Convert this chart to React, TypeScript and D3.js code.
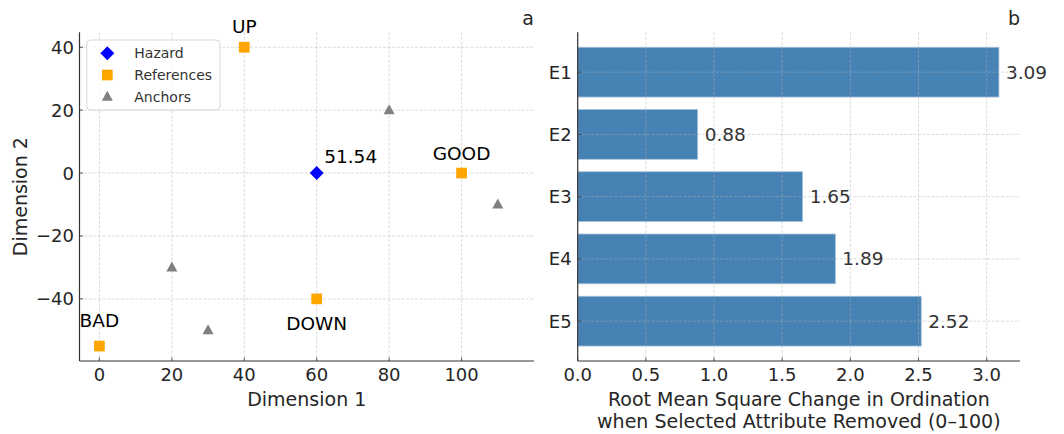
import React from "react";
import * as d3 from "d3";

// ---------- data ----------
const hazardPoint = { x: 60, y: 0, label: "51.54" };
const referenceNames = ["BAD", "UP", "GOOD", "DOWN"];
const referenceX = [0, 40, 100, 60];
const referenceY = [-55, 40, 0, -40];
const anchorX = [20, 30, 80, 110];
const anchorY = [-30, -50, 20, -10];
const scatterXTicks = [0, 20, 40, 60, 80, 100];
const scatterYTicks = [-40, -20, 0, 20, 40];
const legendItems = ["Hazard", "References", "Anchors"];

const barCategories = ["E1", "E2", "E3", "E4", "E5"];
const barValues = [3.09, 0.88, 1.65, 1.89, 2.52];
const barXTicks = [0, 0.5, 1.0, 1.5, 2.0, 2.5, 3.0];

// ---------- style ----------
const W = 1064;
const H = 434;
const FONT = "DejaVu Sans, Verdana, sans-serif";
const TEXT = "#262626";
const SPINE = "#333333";
const GRID = "#b0b0b0";
const ORANGE = "#FFA500";
const BLUE = "#0000FF";
const GRAY = "#808080";
const STEEL = "#4682B4";

const top = 32.3;
const bottom = 361;
const L = { left: 79.5, right: 534 };
const R = { left: 577.7, right: 1020 };

// label pixel offsets (style)
const refLabelOffset: Record<string, number> = { BAD: -19, UP: -14, GOOD: -13, DOWN: 31 };

const fmtMinus = (v: number) => (v < 0 ? "\u2212" + Math.abs(v) : String(v));

function triangle(cx: number, cy: number) {
  const w = 11, h = 10;
  return `M${cx},${cy - h * 0.6} L${cx + w / 2},${cy + h * 0.4} L${cx - w / 2},${cy + h * 0.4} Z`;
}
function diamond(cx: number, cy: number) {
  const r = 7;
  return `M${cx},${cy - r} L${cx + r},${cy} L${cx},${cy + r} L${cx - r},${cy} Z`;
}

export default function App() {
  const x1 = d3.scaleLinear().domain([-5.5, 120]).range([L.left, L.right]);
  const y1 = d3.scaleLinear().domain([-59.75, 44.75]).range([bottom, top]);

  const x2 = d3.scaleLinear().domain([0, 3.2445]).range([R.left, R.right]);
  const yIdx = d3.scaleLinear().domain([-0.64, 4.64]).range([top, bottom]);
  const bandH = (yIdx(1) - yIdx(0)) * 0.8;

  const dash = "3,1.6";
  const sq = 10.7;

  return (
    <svg
      width={W}
      height={H}
      style={{ position: "absolute", left: 0, top: 0, background: "#fff" }}
      fontFamily={FONT}
    >
      {/* ===== Panel a ===== */}
      <g>
        {scatterXTicks.map((t) => (
          <line key={"gx" + t} x1={x1(t)} x2={x1(t)} y1={top} y2={bottom} stroke={GRID} strokeOpacity={0.6} strokeWidth={0.8} strokeDasharray={dash} />
        ))}
        {scatterYTicks.map((t) => (
          <line key={"gy" + t} x1={L.left} x2={L.right} y1={y1(t)} y2={y1(t)} stroke={GRID} strokeOpacity={0.6} strokeWidth={0.8} strokeDasharray={dash} />
        ))}
        {/* anchors */}
        {anchorX.map((ax, i) => (
          <path key={"a" + i} d={triangle(x1(ax), y1(anchorY[i]))} fill={GRAY} />
        ))}
        {/* references */}
        {referenceNames.map((n, i) => (
          <g key={n}>
            <rect x={x1(referenceX[i]) - sq / 2} y={y1(referenceY[i]) - sq / 2} width={sq} height={sq} fill={ORANGE} />
            <text x={x1(referenceX[i])} y={y1(referenceY[i]) + refLabelOffset[n]} textAnchor="middle" fontSize={18.5} fill="#000">
              {n}
            </text>
          </g>
        ))}
        {/* hazard */}
        <path d={diamond(x1(hazardPoint.x), y1(hazardPoint.y))} fill={BLUE} />
        <text x={x1(hazardPoint.x) + 7.5} y={y1(hazardPoint.y) - 10.5} fontSize={18.5} fill="#000">
          {hazardPoint.label}
        </text>

        {/* spines */}
        <line x1={L.left} x2={L.left} y1={top} y2={bottom} stroke={SPINE} strokeWidth={1.2} />
        <line x1={L.left} x2={L.right} y1={bottom} y2={bottom} stroke={SPINE} strokeWidth={1.2} />

        {/* ticks */}
        {scatterXTicks.map((t) => (
          <g key={"tx" + t}>
            <line x1={x1(t)} x2={x1(t)} y1={bottom} y2={bottom - 3.5} stroke={SPINE} strokeWidth={0.8} />
            <text x={x1(t)} y={381} textAnchor="middle" fontSize={18} fill={TEXT}>
              {fmtMinus(t)}
            </text>
          </g>
        ))}
        {scatterYTicks.map((t) => (
          <g key={"ty" + t}>
            <line x1={L.left} x2={L.left + 3.5} y1={y1(t)} y2={y1(t)} stroke={SPINE} strokeWidth={0.8} />
            <text x={74} y={y1(t)} textAnchor="end" dominantBaseline="central" fontSize={18} fill={TEXT}>
              {fmtMinus(t)}
            </text>
          </g>
        ))}
        <text x={(L.left + L.right) / 2} y={406} textAnchor="middle" fontSize={19} fill={TEXT}>
          Dimension 1
        </text>
        <text transform={`translate(26.5,${(top + bottom) / 2}) rotate(-90)`} textAnchor="middle" fontSize={19} fill={TEXT}>
          Dimension 2
        </text>
        <text x={L.right} y={25} textAnchor="end" fontSize={19} fill={TEXT}>
          a
        </text>

        {/* legend */}
        <rect x={86.7} y={40} width={133.3} height={70} rx={4} fill="#fff" fillOpacity={0.8} stroke="#d6d6d6" strokeWidth={1} />
        {legendItems.map((name, i) => {
          const cy = 53.3 + i * 21.7;
          const cx = 107.3;
          return (
            <g key={name}>
              {i === 0 && <path d={diamond(cx, cy)} fill={BLUE} />}
              {i === 1 && <rect x={cx - sq / 2} y={cy - sq / 2} width={sq} height={sq} fill={ORANGE} />}
              {i === 2 && <path d={triangle(cx, cy)} fill={GRAY} />}
              <text x={134.3} y={cy} dominantBaseline="central" fontSize={14} fill="#333">
                {name}
              </text>
            </g>
          );
        })}
      </g>

      {/* ===== Panel b ===== */}
      <g>
        {barCategories.map((c, i) => (
          <rect
            key={c}
            x={x2(0)}
            y={yIdx(i) - bandH / 2}
            width={x2(barValues[i]) - x2(0)}
            height={bandH}
            fill={STEEL}
            stroke="#a9c3db"
            strokeWidth={0.8}
          />
        ))}
        {barXTicks.map((t) => (
          <line key={"bgx" + t} x1={x2(t)} x2={x2(t)} y1={top} y2={bottom} stroke={GRID} strokeOpacity={0.6} strokeWidth={0.8} strokeDasharray={dash} />
        ))}
        {barCategories.map((c, i) => (
          <line key={"bgy" + c} x1={R.left} x2={R.right} y1={yIdx(i)} y2={yIdx(i)} stroke={GRID} strokeOpacity={0.6} strokeWidth={0.8} strokeDasharray={dash} />
        ))}
        {barCategories.map((c, i) => (
          <text key={"v" + c} x={x2(barValues[i]) + 7} y={yIdx(i)} dominantBaseline="central" fontSize={18.5} fill="#333">
            {barValues[i].toFixed(2)}
          </text>
        ))}

        <line x1={R.left} x2={R.left} y1={top} y2={bottom} stroke={SPINE} strokeWidth={1.2} />
        <line x1={R.left} x2={R.right} y1={bottom} y2={bottom} stroke={SPINE} strokeWidth={1.2} />

        {barXTicks.map((t) => (
          <g key={"btx" + t}>
            <line x1={x2(t)} x2={x2(t)} y1={bottom} y2={bottom - 3.5} stroke={SPINE} strokeWidth={0.8} />
            <text x={x2(t)} y={381} textAnchor="middle" fontSize={18} fill={TEXT}>
              {t.toFixed(1)}
            </text>
          </g>
        ))}
        {barCategories.map((c, i) => (
          <g key={"bty" + c}>
            <line x1={R.left} x2={R.left + 3.5} y1={yIdx(i)} y2={yIdx(i)} stroke={SPINE} strokeWidth={0.8} />
            <text x={571.7} y={yIdx(i)} textAnchor="end" dominantBaseline="central" fontSize={18} fill={TEXT}>
              {c}
            </text>
          </g>
        ))}
        <text x={(R.left + R.right) / 2} y={406} textAnchor="middle" fontSize={19} fill={TEXT}>
          Root Mean Square Change in Ordination
        </text>
        <text x={(R.left + R.right) / 2} y={427.5} textAnchor="middle" fontSize={19} fill={TEXT}>
          when Selected Attribute Removed (0–100)
        </text>
        <text x={R.right} y={25} textAnchor="end" fontSize={19} fill={TEXT}>
          b
        </text>
      </g>
    </svg>
  );
}
